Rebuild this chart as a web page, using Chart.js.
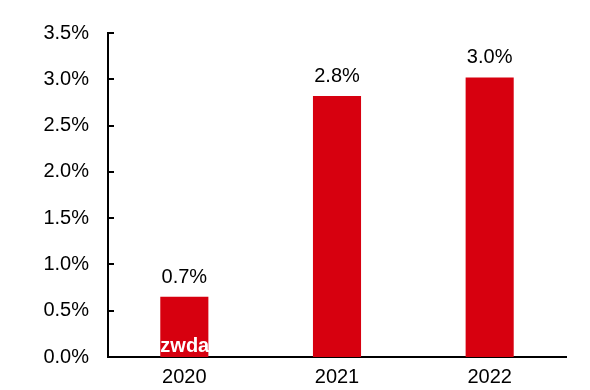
<!DOCTYPE html>
<html>
<head>
<meta charset="utf-8">
<script src="https://cdn.jsdelivr.net/npm/chart.js@4/dist/chart.umd.min.js"></script>
<style>
  body{margin:0;background:#fff;}
  #chart{display:block;}
</style>
</head>
<body>
<canvas id="chart" width="590" height="390"></canvas>
<script>
const years=["2020","2021","2022"];
const growth=[0.65,2.82,3.02];
const growthLabels=["0.7%","2.8%","3.0%"];
const barColor="#d7000f";
const font="'Liberation Sans', Arial, sans-serif";

// value labels above the bars + inward ticks on the y axis
const extras={
  id:"extras",
  afterDatasetsDraw(chart){
    const ctx=chart.ctx;
    const meta=chart.getDatasetMeta(0);
    ctx.save();
    ctx.fillStyle="#000";
    ctx.font="20px "+font;
    ctx.textAlign="center";
    ctx.textBaseline="alphabetic";
    meta.data.forEach((bar,i)=>{
      ctx.fillText(growthLabels[i],bar.x,bar.y-14);
    });
    // watermark fragment
    ctx.fillStyle="#fff";
    ctx.font="bold 20px "+font;
    ctx.textAlign="left";
    ctx.fillText("zwda",meta.data[0].x-24,352);
    // y ticks pointing inward
    const y=chart.scales.y;
    ctx.strokeStyle="#000";
    ctx.lineWidth=2;
    y.ticks.forEach(t=>{
      const py=Math.round(y.getPixelForValue(t.value));
      ctx.beginPath();
      ctx.moveTo(y.right,py);
      ctx.lineTo(y.right+6,py);
      ctx.stroke();
    });
    ctx.restore();
  }
};

new Chart(document.getElementById("chart").getContext("2d"),{
  type:"bar",
  data:{
    labels:years,
    datasets:[{
      data:growth,
      backgroundColor:barColor,
      borderWidth:0,
      barPercentage:0.315,
      categoryPercentage:1
    }]
  },
  options:{
    responsive:false,
    animation:false,
    layout:{padding:{top:33,right:24,bottom:0,left:0}},
    plugins:{legend:{display:false},tooltip:{enabled:false}},
    scales:{
      x:{
        grid:{display:false,drawTicks:false},
        border:{display:true,color:"#000",width:2},
        ticks:{color:"#000",font:{family:font,size:20},padding:8},
        afterFit(s){s.height=33;}
      },
      y:{
        min:0,max:3.5,
        grid:{display:false,drawTicks:false},
        border:{display:true,color:"#000",width:2},
        ticks:{
          stepSize:0.5,color:"#000",padding:19,
          font:{family:font,size:20},
          callback:v=>v.toFixed(1)+"%"
        },
        afterFit(s){s.width=108;}
      }
    }
  },
  plugins:[extras]
});
</script>
</body>
</html>
